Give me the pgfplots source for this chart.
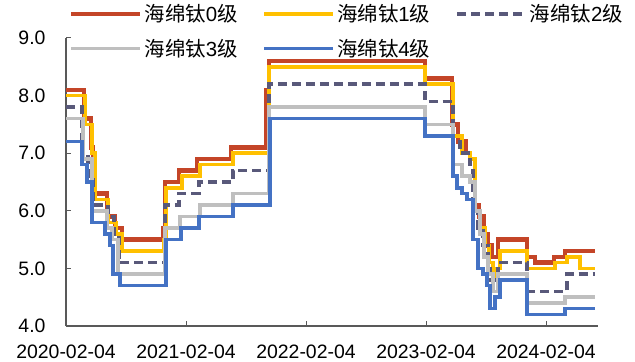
\documentclass[border=0pt]{standalone}
\usepackage{fontspec}
\setmainfont{Liberation Sans}
\newfontfamily\cjk{Noto Sans CJK SC}
\usepackage{pgfplots}
\pgfplotsset{compat=1.18}
\definecolor{c0}{RGB}{196,69,40}
\definecolor{c1}{RGB}{255,192,0}
\definecolor{c2}{RGB}{89,89,122}
\definecolor{c3}{RGB}{191,191,191}
\definecolor{c4}{RGB}{68,114,196}
\definecolor{axgray}{RGB}{89,89,89}
\begin{document}
\begin{tikzpicture}
\useasboundingbox (-66bp,-36bp) rectangle (569bp,326bp);
\begin{axis}[
  at={(0,0)}, anchor=south west,
  width=532bp, height=288bp, scale only axis,
  xmin=0, xmax=53.2, ymin=4, ymax=9,
  axis x line=bottom, axis y line=left,
  axis line style={-, draw=axgray, line width=1.2bp},
  xtick={0,12,24,36,48},
  xticklabels={2020-02-04,2021-02-04,2022-02-04,2023-02-04,2024-02-04},
  ytick={4,5,6,7,8,9},
  /pgf/number format/assume math mode=true,
  yticklabel style={xshift=-17bp, /pgf/number format/.cd,fixed,fixed zerofill,precision=1},
  xticklabel style={yshift=-15bp},
  tick align=inside, major tick length=5bp,
  tick style={draw=axgray, line width=1bp},
  ticklabel style={font=\fontsize{19.5}{22}\selectfont},
  legend columns=3,
  legend cell align=left,
  legend style={draw=none, fill=none, at={(0.0094,1.13)}, anchor=north west, xshift=-5bp,
    font=\fontsize{20.5}{23}\selectfont, row sep=12bp,
    /tikz/every even column/.append style={column sep=23bp}},
  legend image code/.code={\draw[#1] (0bp,0bp) -- (69bp,0bp);},
  const plot,
]
\addplot[c0, line width=4.5bp, no marks] coordinates {
(0,8.1) (1.8,7.6) (2.5,7.1) (2.7,6.3) (4.1,5.9) (4.9,5.7) (5.6,5.5) (9.7,5.7) (9.9,6.5)
(11.3,6.7) (13.1,6.9) (16.5,7.1) (20.0,8.1) (20.3,8.6) (35.9,8.3) (38.6,7.5) (39.2,7.2)
(40.0,7.0) (40.4,6.9) (40.9,6.1) (41.3,5.9) (41.8,5.6) (42.2,5.4) (42.6,5.2) (43.2,5.5)
(46.1,5.2) (46.9,5.1) (48.8,5.2) (49.9,5.3) (52.9,5.3)};
\addlegendentry{{\cjk 海绵钛}0{\cjk 级}}
\addplot[c1, line width=3.5bp, no marks] coordinates {
(0,8.0) (1.9,7.5) (2.6,7.0) (2.9,6.2) (4.2,5.8) (5.0,5.6) (5.6,5.3) (9.8,5.5) (10.0,6.4)
(11.6,6.6) (13.4,6.8) (16.7,7.0) (20.3,8.5) (35.9,8.2) (38.7,7.3) (39.6,7.0) (40.4,6.9)
(40.9,6.0) (41.4,5.7) (41.9,5.4) (42.3,5.1) (42.7,4.8) (42.9,5.0) (43.4,5.3) (46.1,5.0)
(48.9,5.1) (50.1,5.2) (51.4,5.0) (52.9,5.0)};
\addlegendentry{{\cjk 海绵钛}1{\cjk 级}}
\addplot[c2, line width=3.5bp, dash pattern=on 9bp off 5bp, no marks] coordinates {
(0,7.8) (1.6,7.0) (2.2,6.6) (2.7,6.1) (4.2,5.9) (4.8,5.6) (5.3,5.1) (9.9,6.1) (11.3,6.3)
(13.3,6.5) (16.7,6.7) (20.3,8.2) (35.9,7.9) (38.7,7.2) (39.4,7.0) (40.4,6.8) (40.7,6.0)
(41.2,5.7) (41.7,5.4) (42.2,5.0) (42.4,4.8) (43.2,5.1) (46.1,4.6) (50.1,4.9) (52.9,4.9)};
\addlegendentry{{\cjk 海绵钛}2{\cjk 级}}
\addplot[c3, line width=3.5bp, no marks] coordinates {
(0,7.6) (1.7,6.9) (2.6,6.0) (4.1,5.7) (4.6,5.5) (5.2,4.9) (9.9,5.7) (11.4,5.9) (13.4,6.1)
(16.7,6.3) (20.3,7.8) (35.9,7.5) (38.7,6.8) (39.6,6.6) (40.4,6.5) (40.9,6.0) (41.4,5.6)
(41.8,5.2) (42.2,4.9) (42.7,4.6) (43.2,4.9) (46.1,4.4) (49.9,4.5) (52.9,4.5)};
\addlegendentry{{\cjk 海绵钛}3{\cjk 级}}
\addplot[c4, line width=3.5bp, no marks] coordinates {
(0,7.2) (1.6,6.8) (2.1,6.5) (2.6,5.8) (3.9,5.6) (4.4,5.4) (4.7,4.9) (5.4,4.7) (10.0,5.5)
(11.5,5.7) (13.3,5.9) (16.7,6.1) (20.4,7.6) (35.9,7.3) (38.7,6.6) (39.1,6.4) (39.6,6.3)
(40.1,6.2) (40.7,5.5) (41.2,5.0) (41.7,4.9) (42.1,4.7) (42.4,4.3) (42.9,4.5) (43.4,4.8)
(46.1,4.2) (49.9,4.3) (52.9,4.3)};
\addlegendentry{{\cjk 海绵钛}4{\cjk 级}}
\end{axis}
\end{tikzpicture}
\end{document}
